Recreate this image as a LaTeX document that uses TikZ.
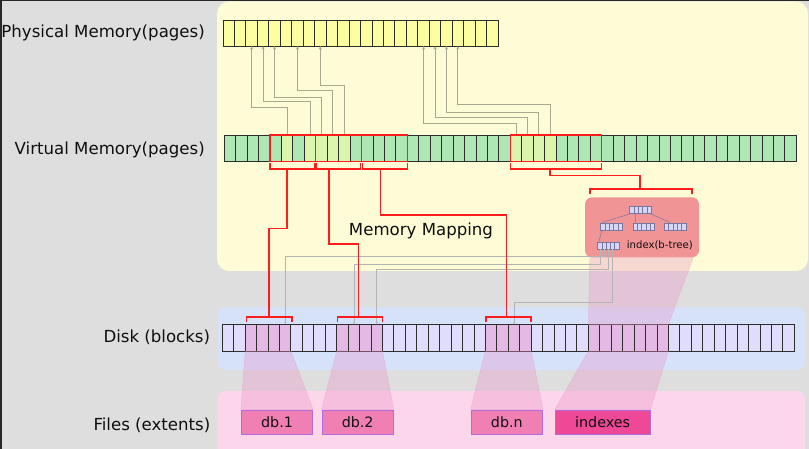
\documentclass[tikz,border=0pt]{standalone}
\usepackage{fontspec}
\setmainfont{DejaVu Sans}
\usetikzlibrary{arrows.meta,calc}
\definecolor{bgc}{RGB}{222,222,222}
\definecolor{darkedge}{RGB}{40,40,40}
\definecolor{ypanel}{RGB}{253,252,214}
\definecolor{bpanel}{RGB}{214,226,250}
\definecolor{kpanel}{RGB}{252,214,234}
\definecolor{physc}{RGB}{253,253,162}
\definecolor{vgreen}{RGB}{174,230,180}
\definecolor{vmap}{RGB}{220,245,172}
\definecolor{diskc}{RGB}{224,220,252}
\definecolor{diskh}{RGB}{228,186,228}
\definecolor{cellb}{RGB}{45,45,45}
\definecolor{redc}{RGB}{255,28,28}
\definecolor{plinec}{RGB}{168,168,140}
\definecolor{glinec}{RGB}{180,180,180}
\definecolor{btc}{RGB}{240,148,150}
\definecolor{bnc}{RGB}{214,214,248}
\definecolor{bnb}{RGB}{120,120,160}
\definecolor{dbc}{RGB}{240,128,180}
\definecolor{dbb}{RGB}{176,108,220}
\definecolor{ixc}{RGB}{238,72,150}
\definecolor{trapc}{RGB}{236,150,200}
\definecolor{txtc}{RGB}{15,15,15}
\begin{document}
\begin{tikzpicture}[x=1pt,y=-1pt,
  lbl/.style={inner sep=0pt,text=txtc,font=\fontsize{16.6}{20}\selectfont},
  cell/.style={draw=cellb,line width=0.9pt,inner sep=0pt,outer sep=0pt,minimum width=11.45pt},
  rline/.style={draw=redc,line width=1.3pt},
  pline/.style={draw=plinec,line width=1pt,-{Stealth[length=3.5pt,width=3pt]}},
  gline/.style={draw=glinec,line width=0.6pt,-{Stealth[length=2.5pt,width=2pt]}},
  tline/.style={draw=bnb!80!gray,line width=0.5pt},
  bnode/.style={draw=bnb,fill=bnc,line width=0.5pt,inner sep=0pt,minimum width=21.6pt,minimum height=7pt,
    path picture={\foreach \k in {1,2,3,4}{\draw[bnb,line width=0.4pt] ([xshift=\k*4.32pt]path picture bounding box.south west) -- ([xshift=\k*4.32pt]path picture bounding box.north west);}}},
  fbox/.style={draw=dbb,line width=0.8pt,inner sep=0pt,minimum height=24pt,text=txtc,font=\fontsize{14.3}{17}\selectfont},
  trap/.style={fill=trapc,fill opacity=0.35,draw=trapc,draw opacity=0.5,line width=0.4pt}
]
\useasboundingbox (0,0) rectangle (809,449);
\fill[bgc] (0,0) rectangle (809,449);
\fill[darkedge] (0,0) rectangle (1.5,449);
\fill[darkedge] (0,0) rectangle (809,1);
% panels
\fill[ypanel,rounded corners=12pt] (217,1.5) rectangle (808,271);
\fill[bpanel,rounded corners=8pt] (217.3,307.3) rectangle (805,370);
\fill[kpanel,rounded corners=8pt] (217.3,391) rectangle (805,470);
% labels
\node[lbl,anchor=base east] (lphys) at (205,38) {Physical Memory(pages)};
\node[lbl,anchor=base east] (lvirt) at (205,154.3) {Virtual Memory(pages)};
\node[lbl,anchor=base east] (ldisk) at (210.3,342.3) {Disk (blocks)};
\node[lbl,anchor=base east] (lfile) at (210.5,430) {Files (extents)};
\node[lbl,anchor=base] (lmm) at (421,236) {Memory Mapping};
% b-tree box
\node[fill=btc,rounded corners=7pt,minimum width=114pt,minimum height=60pt,inner sep=0pt] (bt) at (642,227.3) {};
% file boxes
\node[fbox,fill=dbc,minimum width=71.4pt] (f1) at (277,422) {db.1};
\node[fbox,fill=dbc,minimum width=71.3pt] (f2) at (357.65,422) {db.2};
\node[fbox,fill=dbc,minimum width=71.7pt] (fn) at (506.85,422) {db.n};
\node[fbox,fill=ixc,minimum width=94.7pt] (ix) at (602.65,422) {indexes};
% physical pages
\foreach \i in {0,...,23}
  \node[cell,fill=physc,minimum height=26pt] (p\i) at ({228.73+\i*11.46},33) {};
% virtual pages
\foreach \i in {0,...,49}{
  \pgfmathtruncatemacro\ism{(\i==5)||(\i==7)||((\i>=8)&&(\i<=10))||((\i>=25)&&(\i<=28))}
  \ifnum\ism=1 \def\fc{vmap}\else\def\fc{vgreen}\fi
  \node[cell,fill=\fc,minimum height=26.5pt] (v\i) at ({230.02+\i*11.44},148.3) {};
}
% disk blocks
\foreach \i in {0,...,49}{
  \pgfmathtruncatemacro\ish{((\i>=2)&&(\i<=5))||((\i>=10)&&(\i<=13))||((\i>=23)&&(\i<=26))||((\i>=32)&&(\i<=38))}
  \ifnum\ish=1 \def\fc{diskh}\else\def\fc{diskc}\fi
  \node[cell,fill=\fc,minimum height=26.7pt] (d\i) at ({228.02+\i*11.44},337.65) {};
}
% translucent bands
\draw[trap] (d2.south west) -- (d5.south east) -- (f1.north east) -- (f1.north west) -- cycle;
\draw[trap] (d10.south west) -- (d13.south east) -- (f2.north east) -- (f2.north west) -- cycle;
\draw[trap] (d23.south west) -- (d26.south east) -- (fn.north east) -- (fn.north west) -- cycle;
\draw[trap] ([xshift=5pt]bt.south west) -- ([xshift=-6pt]bt.south east) -- (d38.north east) -- (d32.north west) -- cycle;
\draw[trap] (d32.south west) -- (d38.south east) -- (ix.north east) -- (ix.north west) -- cycle;
% b-tree nodes
\node[bnode] (rt) at (640.5,210) {};
\node[bnode] (l2a) at (611.5,226.3) {};
\node[bnode] (l2b) at (643.8,226.3) {};
\node[bnode] (l2c) at (675,226.3) {};
\node[bnode] (lf) at (608.2,245.5) {};
\draw[tline] ([xshift=1pt]rt.south west) -- ([xshift=1.5pt]l2a.north west);
\draw[tline] ([xshift=6pt]rt.south west) -- ([xshift=3pt]l2b.north west);
\draw[tline] ([xshift=-1pt]rt.south east) -- ([xshift=6pt]l2c.north west);
\draw[tline] ([xshift=1.5pt]l2a.south west) -- ([xshift=1.7pt]lf.north west);
\node[inner sep=0pt,anchor=base west,text=txtc,font=\fontsize{10.1}{12}\selectfont] (btl) at (626.7,249) {index(b-tree)};
% page table lines virtual -> physical
\foreach \a/\b/\h in {5/2/107.5, 7/3/102, 8/4/97.3, 9/6/91, 10/8/86, 25/17/123.3, 26/18/117.5, 27/19/112.3, 28/20/105}
  \draw[pline] (v\a.north) -- (v\a.north |- 0,\h) -| (p\b.south);
% b-tree leaf -> disk blocks
\draw[gline] ([xshift=6.7pt]lf.south west) -- ++(0,6.7) -| (d5.north);
\draw[gline] ([xshift=3.4pt]lf.south west) -- ++(0,15) -| (d11.north);
\draw[gline] ([xshift=11pt]lf.south west) -- ++(0,19.7) -| (d13.north);
\draw[gline] ([xshift=15.4pt]lf.south west) -- ++(0,53.4) -| (d25.north);
% red boxes on virtual memory
\draw[rline] (v4.north west) rectangle (v7.south east);
\draw[rline] (v8.north west) rectangle (v11.south east);
\draw[rline] (v12.north west) rectangle (v15.south east);
\draw[rline] (v25.north west) rectangle (v32.south east);
% brackets under virtual memory
\draw[rline] (270,163.5) -- (270,169) -- (315,169) -- (315,163.5);
\draw[rline] (316.7,163.5) -- (316.7,169) -- (360.3,169) -- (360.3,163.5);
\draw[rline] (362.7,163.5) -- (362.7,169) -- (407.3,169) -- (407.3,163.5);
\draw[rline] (510.7,163.5) -- (510.7,169) -- (601.7,169) -- (601.7,163.5);
% brackets over disk and b-tree
\draw[rline] (246.7,322) -- (246.7,317) -- (292,317) -- (292,322);
\draw[rline] (337.3,322) -- (337.3,317) -- (382.3,317) -- (382.3,322);
\draw[rline] (486,322) -- (486,317) -- (531,317) -- (531,322);
\draw[rline] (590,194.5) -- (590,189) -- (692,189) -- (692,194.5);
% red mapping routes
\coordinate (s1) at (287,169);   \coordinate (e1) at (269,317);
\coordinate (s2) at (329,169);   \coordinate (e2) at (358.3,317);
\coordinate (s3) at (380.7,169); \coordinate (e3) at (506.7,317);
\coordinate (s4) at (550,169);   \coordinate (e4) at (640,189);
\draw[rline] (s1) -- (s1 |- 0,228.3) -| (e1);
\draw[rline] (s2) -- (s2 |- 0,244) -| (e2);
\draw[rline] (s3) -- (s3 |- 0,215) -| (e3);
\draw[rline] (s4) -- (s4 |- 0,175.5) -| (e4);
\end{tikzpicture}
\end{document}
